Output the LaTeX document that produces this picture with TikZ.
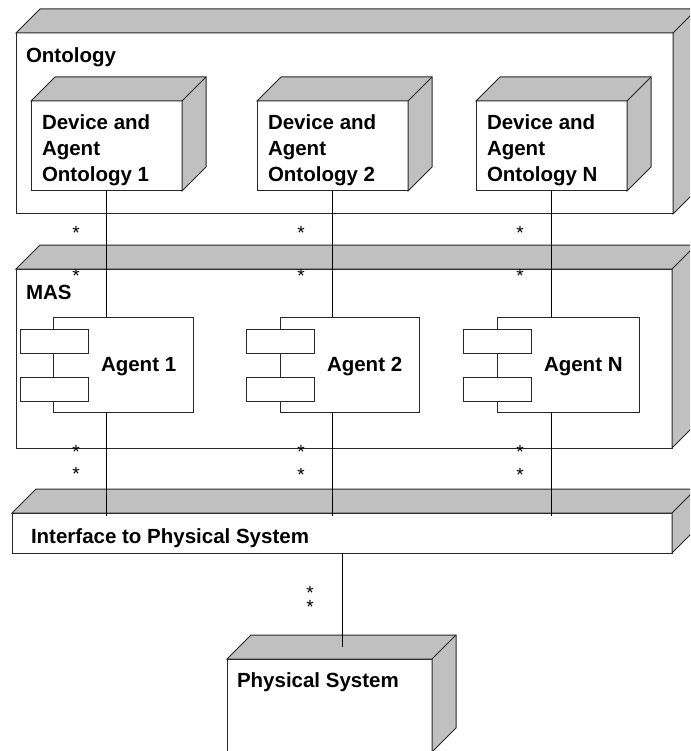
\documentclass[tikz,border=0pt]{standalone}
\usepackage{fontspec}
\setmainfont{Liberation Sans}
\usetikzlibrary{calc}

\definecolor{shade}{RGB}{192,192,192}
\definecolor{edge}{RGB}{40,40,40}

\tikzset{
  front/.style={draw=edge, line width=1pt, fill=white, inner sep=0pt, outer sep=0pt, anchor=north west},
  side/.style={draw=edge, line width=1pt, fill=shade, line join=miter},
  port/.style={draw=edge, line width=1pt, fill=white, inner sep=0pt, outer sep=0pt,
               minimum width=68pt, minimum height=24pt, anchor=north},
  lbl/.style={inner sep=0pt, outer sep=0pt, align=left, anchor=base west,
              font=\fontsize{20.5}{26}\selectfont\bfseries},
  mult/.style={inner sep=0pt, outer sep=0pt, anchor=base, align=center,
               font=\fontsize{19}{14}\selectfont},
  conn/.style={draw=black, line width=1pt},
}

% grey top and right faces of a 3D node box
\newcommand\boxfaces[2]{%
  \filldraw[side] (#1.north west) -- ++(#2,-#2) -- ($(#1.north east)+(#2,-#2)$)
    -- ($(#1.south east)+(#2,-#2)$) -- (#1.south east) -- (#1.north east) -- cycle;
  \draw[side, fill=none] (#1.north east) -- ++(#2,-#2);
}

\begin{document}
\begin{tikzpicture}[x=1pt,y=-1pt]
\useasboundingbox (0,0) rectangle (690,751);
\clip (0,0) rectangle (690,751);

% Ontology package
\node[front, minimum width=657pt, minimum height=181pt] (ont) at (16,33) {};
\boxfaces{ont}{24}
\node[lbl] (ontt) at (26,63) {Ontology};

% ontology nodes (base anchor sits on the last line)
\node[front, minimum width=151pt, minimum height=90pt] (dev1) at (31,101) {};
\boxfaces{dev1}{24}
\node[lbl] (dev1t) at (42,182) {Device and\\Agent\\Ontology 1};

\node[front, minimum width=151pt, minimum height=90pt] (dev2) at (257,101) {};
\boxfaces{dev2}{24}
\node[lbl] (dev2t) at (268,182) {Device and\\Agent\\Ontology 2};

\node[front, minimum width=151pt, minimum height=90pt] (devN) at (476,101) {};
\boxfaces{devN}{24}
\node[lbl] (devNt) at (487,182) {Device and\\Agent\\Ontology N};

% MAS package
\node[front, minimum width=656pt, minimum height=179pt] (mas) at (16,269) {};
\boxfaces{mas}{24}
\node[lbl] (mast) at (26,299) {MAS};

% agent components
\node[front, minimum width=140pt, minimum height=95pt] (ag1) at (53,317) {};
\node[port] (ag1a) at (54,329) {};
\node[port] (ag1b) at (54,377) {};
\node[lbl] (ag1t) at (101,371) {Agent 1};

\node[front, minimum width=139pt, minimum height=95pt] (ag2) at (280,317) {};
\node[port] (ag2a) at (280,329) {};
\node[port] (ag2b) at (280,377) {};
\node[lbl] (ag2t) at (327,371) {Agent 2};

\node[front, minimum width=142pt, minimum height=95pt] (agN) at (497,317) {};
\node[port] (agNa) at (497,329) {};
\node[port] (agNb) at (497,377) {};
\node[lbl] (agNt) at (544,371) {Agent N};

% interface package
\node[front, minimum width=660pt, minimum height=40pt] (iface) at (12,513) {};
\boxfaces{iface}{24}
\node[lbl] (ifacet) at (31,543) {Interface to Physical System};

% physical system node
\node[front, minimum width=205pt, minimum height=93pt] (phys) at (227,659) {};
\boxfaces{phys}{24}
\node[lbl] (physt) at (237,687) {Physical System};
\coordinate (physTop) at ($(phys.north)+(12,-12)$);

% connectors
\draw[conn] (dev1.south) -- (dev1.south |- ag1.north);
\draw[conn] (dev1.south |- ag1.south) -- ($(dev1.south |- iface.north)+(0,3)$);
\draw[conn] (dev2.south) -- (dev2.south |- ag2.north);
\draw[conn] (dev2.south |- ag2.south) -- ($(dev2.south |- iface.north)+(0,3)$);
\draw[conn] (devN.south) -- (devN.south |- agN.north);
\draw[conn] (devN.south |- agN.south) -- ($(devN.south |- iface.north)+(0,3)$);
\draw[conn] (iface.south) -- (iface.south |- physTop);

% multiplicities
\node[mult] (s1a) at (76,239) {*};
\node[mult] (s1b) at (76,282) {*};
\node[mult] (s1c) at (76,458) {*};
\node[mult] (s1d) at (76,480.5) {*};
\node[mult] (s2a) at (301,239) {*};
\node[mult] (s2b) at (301,282) {*};
\node[mult] (s2c) at (301,458) {*};
\node[mult] (s2d) at (301,481.5) {*};
\node[mult] (sNa) at (520,239) {*};
\node[mult] (sNb) at (520,282) {*};
\node[mult] (sNc) at (520,458) {*};
\node[mult] (sNd) at (520,481) {*};
\node[mult] (sp) at (310,613) {*\\*};
\end{tikzpicture}
\end{document}
